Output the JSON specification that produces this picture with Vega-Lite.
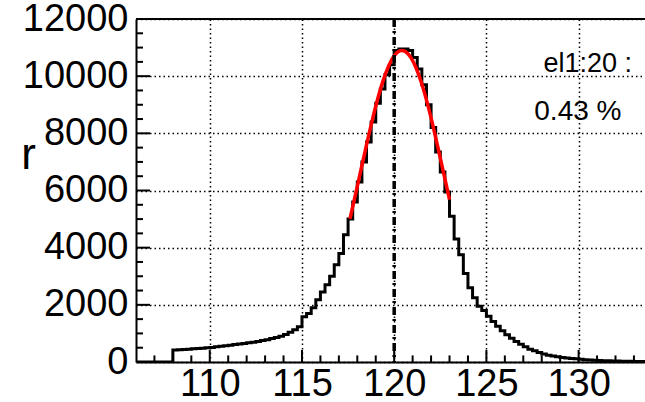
{
  "$schema": "https://vega.github.io/schema/vega-lite/v6.json",
  "width": 509,
  "height": 343,
  "autosize": {"type": "none"},
  "padding": {"left": 136, "top": 19, "right": 0, "bottom": 40},
  "background": "white",
  "config": {"view": {"stroke": null}},
  "datasets": {
    "hist": [
      {"x": 106.0, "v": 0}, {"x": 106.25, "v": 0}, {"x": 106.5, "v": 0}, {"x": 106.75, "v": 0},
      {"x": 107.0, "v": 0}, {"x": 107.25, "v": 0}, {"x": 107.5, "v": 0}, {"x": 107.75, "v": 0},
      {"x": 108.0, "v": 420}, {"x": 108.25, "v": 430}, {"x": 108.5, "v": 440}, {"x": 108.75, "v": 450},
      {"x": 109.0, "v": 460}, {"x": 109.25, "v": 470}, {"x": 109.5, "v": 480}, {"x": 109.75, "v": 495},
      {"x": 110.0, "v": 510}, {"x": 110.25, "v": 530}, {"x": 110.5, "v": 550}, {"x": 110.75, "v": 570},
      {"x": 111.0, "v": 590}, {"x": 111.25, "v": 610}, {"x": 111.5, "v": 630}, {"x": 111.75, "v": 650},
      {"x": 112.0, "v": 670}, {"x": 112.25, "v": 690}, {"x": 112.5, "v": 720}, {"x": 112.75, "v": 750},
      {"x": 113.0, "v": 780}, {"x": 113.25, "v": 820}, {"x": 113.5, "v": 860}, {"x": 113.75, "v": 900},
      {"x": 114.0, "v": 960}, {"x": 114.25, "v": 1040}, {"x": 114.5, "v": 1130}, {"x": 114.75, "v": 1230},
      {"x": 115.0, "v": 1580}, {"x": 115.25, "v": 1700}, {"x": 115.5, "v": 1900}, {"x": 115.75, "v": 2180},
      {"x": 116.0, "v": 2450}, {"x": 116.25, "v": 2700}, {"x": 116.5, "v": 3000}, {"x": 116.75, "v": 3400},
      {"x": 117.0, "v": 3800}, {"x": 117.25, "v": 4450}, {"x": 117.5, "v": 5000}, {"x": 117.75, "v": 5600},
      {"x": 118.0, "v": 6300}, {"x": 118.25, "v": 7000}, {"x": 118.5, "v": 7700}, {"x": 118.75, "v": 8400},
      {"x": 119.0, "v": 9050}, {"x": 119.25, "v": 9550}, {"x": 119.5, "v": 10050}, {"x": 119.75, "v": 10400},
      {"x": 120.0, "v": 10900}, {"x": 120.25, "v": 10950}, {"x": 120.5, "v": 10950}, {"x": 120.75, "v": 10900},
      {"x": 121.0, "v": 10650}, {"x": 121.25, "v": 10250}, {"x": 121.5, "v": 9700}, {"x": 121.75, "v": 9000},
      {"x": 122.0, "v": 8200}, {"x": 122.25, "v": 7350}, {"x": 122.5, "v": 6650}, {"x": 122.75, "v": 5950},
      {"x": 123.0, "v": 5100}, {"x": 123.25, "v": 4300}, {"x": 123.5, "v": 3750}, {"x": 123.75, "v": 3100},
      {"x": 124.0, "v": 2600}, {"x": 124.25, "v": 2250}, {"x": 124.5, "v": 1950}, {"x": 124.75, "v": 1800},
      {"x": 125.0, "v": 1600}, {"x": 125.25, "v": 1420}, {"x": 125.5, "v": 1250}, {"x": 125.75, "v": 1090},
      {"x": 126.0, "v": 950}, {"x": 126.25, "v": 830}, {"x": 126.5, "v": 720}, {"x": 126.75, "v": 620},
      {"x": 127.0, "v": 530}, {"x": 127.25, "v": 450}, {"x": 127.5, "v": 390}, {"x": 127.75, "v": 330},
      {"x": 128.0, "v": 280}, {"x": 128.25, "v": 240}, {"x": 128.5, "v": 210}, {"x": 128.75, "v": 180},
      {"x": 129.0, "v": 160}, {"x": 129.25, "v": 140}, {"x": 129.5, "v": 125}, {"x": 129.75, "v": 110},
      {"x": 130.0, "v": 95}, {"x": 130.25, "v": 82}, {"x": 130.5, "v": 72}, {"x": 130.75, "v": 63},
      {"x": 131.0, "v": 55}, {"x": 131.25, "v": 48}, {"x": 131.5, "v": 42}, {"x": 131.75, "v": 37},
      {"x": 132.0, "v": 32}, {"x": 132.25, "v": 28}, {"x": 132.5, "v": 25}, {"x": 132.75, "v": 22},
      {"x": 133.0, "v": 19}, {"x": 133.25, "v": 16}, {"x": 133.5, "v": 14}, {"x": 133.75, "v": 12},
      {"x": 134.0, "v": 12}
    ],
    "fit": [
      {"x": 117.6, "v": 5005}, {"x": 117.9, "v": 5852}, {"x": 118.2, "v": 6728}, {"x": 118.5, "v": 7597},
      {"x": 118.8, "v": 8430}, {"x": 119.1, "v": 9190}, {"x": 119.4, "v": 9844}, {"x": 119.7, "v": 10360},
      {"x": 120.0, "v": 10713}, {"x": 120.3, "v": 10885}, {"x": 120.42, "v": 10900}, {"x": 120.6, "v": 10865},
      {"x": 120.9, "v": 10657}, {"x": 121.2, "v": 10269}, {"x": 121.5, "v": 9724}, {"x": 121.8, "v": 9047},
      {"x": 122.1, "v": 8269}, {"x": 122.4, "v": 7426}, {"x": 122.7, "v": 6553}, {"x": 123.0, "v": 5681}
    ],
    "xmajor": [{"t": 110}, {"t": 115}, {"t": 120}, {"t": 125}, {"t": 130}],
    "xminor": [{"t": 107}, {"t": 108}, {"t": 109}, {"t": 111}, {"t": 112}, {"t": 113}, {"t": 114}, {"t": 116}, {"t": 117}, {"t": 118}, {"t": 119}, {"t": 121}, {"t": 122}, {"t": 123}, {"t": 124}, {"t": 126}, {"t": 127}, {"t": 128}, {"t": 129}, {"t": 131}, {"t": 132}, {"t": 133}],
    "ymajor": [{"t": 2000}, {"t": 4000}, {"t": 6000}, {"t": 8000}, {"t": 10000}],
    "yminor": [{"t": 500}, {"t": 1000}, {"t": 1500}, {"t": 2500}, {"t": 3000}, {"t": 3500}, {"t": 4500}, {"t": 5000}, {"t": 5500}, {"t": 6500}, {"t": 7000}, {"t": 7500}, {"t": 8500}, {"t": 9000}, {"t": 9500}, {"t": 10500}, {"t": 11000}, {"t": 11500}]
  },
  "layer": [
    {
      "data": {"name": "hist"},
      "mark": {"type": "line", "interpolate": "step-after", "color": "black", "strokeWidth": 3, "clip": true},
      "encoding": {
        "x": {
          "field": "x", "type": "quantitative",
          "scale": {"domain": [106, 133.6], "nice": false, "zero": false},
          "axis": {
            "title": null,
            "values": [110, 115, 120, 125, 130],
            "labelFont": "Liberation Sans", "labelFontSize": 38, "labelColor": "black",
            "labelPadding": 3, "labelFlush": false, "labelOverlap": false,
            "ticks": false,
            "grid": true, "gridColor": "black", "gridDash": [1.5, 3], "gridWidth": 1.5,
            "domainColor": "black", "domainWidth": 2
          }
        },
        "y": {
          "field": "v", "type": "quantitative",
          "scale": {"domain": [0, 12000], "nice": false},
          "axis": {
            "title": "r", "titleAngle": 0, "titleFont": "Liberation Sans", "titleFontSize": 44,
            "titleFontWeight": "normal", "titleColor": "black",
            "titleX": -108, "titleY": 149, "titleAlign": "center", "titleBaseline": "alphabetic",
            "values": [0, 2000, 4000, 6000, 8000, 10000, 12000],
            "format": "d",
            "labelFont": "Liberation Sans", "labelFontSize": 38, "labelColor": "black",
            "labelPadding": 8, "labelFlush": false, "labelOverlap": false,
            "ticks": false,
            "grid": true, "gridColor": "black", "gridDash": [1.5, 3], "gridWidth": 1.5,
            "domainColor": "black", "domainWidth": 2
          }
        }
      }
    },
    {
      "data": {"name": "xmajor"},
      "mark": {"type": "rule", "color": "black", "strokeWidth": 2},
      "encoding": {"x": {"field": "t", "type": "quantitative"}, "y": {"datum": 0, "type": "quantitative"}, "y2": {"datum": 420}}
    },
    {
      "data": {"name": "xminor"},
      "mark": {"type": "rule", "color": "black", "strokeWidth": 2},
      "encoding": {"x": {"field": "t", "type": "quantitative"}, "y": {"datum": 0, "type": "quantitative"}, "y2": {"datum": 230}}
    },
    {
      "data": {"name": "ymajor"},
      "mark": {"type": "rule", "color": "black", "strokeWidth": 2},
      "encoding": {"y": {"field": "t", "type": "quantitative"}, "x": {"datum": 106, "type": "quantitative"}, "x2": {"datum": 106.76}}
    },
    {
      "data": {"name": "yminor"},
      "mark": {"type": "rule", "color": "black", "strokeWidth": 2},
      "encoding": {"y": {"field": "t", "type": "quantitative"}, "x": {"datum": 106, "type": "quantitative"}, "x2": {"datum": 106.38}}
    },
    {
      "data": {"name": "fit"},
      "mark": {"type": "line", "interpolate": "monotone", "color": "#ff0000", "strokeWidth": 3.5},
      "encoding": {
        "x": {"field": "x", "type": "quantitative"},
        "y": {"field": "v", "type": "quantitative"}
      }
    },
    {
      "data": {"values": [{}]},
      "mark": {"type": "rule", "color": "black", "strokeWidth": 3.5, "strokeDash": [8, 4, 2, 4]},
      "encoding": {"x": {"datum": 120, "type": "quantitative"}}
    },
    {
      "data": {"values": [{}]},
      "mark": {"type": "rule", "color": "black", "strokeWidth": 2},
      "encoding": {"y": {"datum": 12000, "type": "quantitative"}}
    },
    {
      "data": {"values": [{}]},
      "mark": {"type": "text", "text": "el1:20 :", "font": "Liberation Sans", "fontSize": 27, "color": "black", "align": "center", "baseline": "alphabetic"},
      "encoding": {"x": {"datum": 130.5, "type": "quantitative"}, "y": {"datum": 10150, "type": "quantitative"}}
    },
    {
      "data": {"values": [{}]},
      "mark": {"type": "text", "text": "0.43 %", "font": "Liberation Sans", "fontSize": 28, "color": "black", "align": "center", "baseline": "alphabetic"},
      "encoding": {"x": {"datum": 129.96, "type": "quantitative"}, "y": {"datum": 8470, "type": "quantitative"}}
    }
  ]
}
